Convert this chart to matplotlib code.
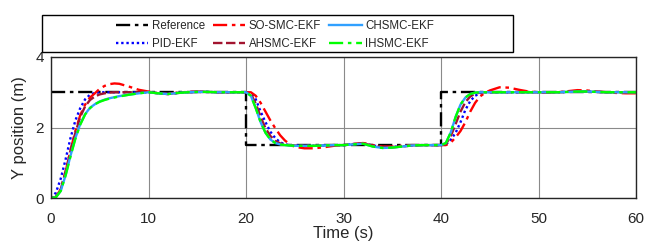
import matplotlib
matplotlib.use("Agg")
import matplotlib.pyplot as plt
from matplotlib.patches import Rectangle

plt.rcParams['font.family'] = ['Liberation Sans', 'DejaVu Sans']

# ---------------- data ----------------
ref_t = [0, 20, 20, 40, 40, 60]
ref_y = [3.0, 3.0, 1.5, 1.5, 3.0, 3.0]

t = [0, 0.5, 1, 1.5, 2, 2.5, 3, 3.5, 4, 4.5, 5, 5.5, 6, 6.5, 7, 8, 9, 10,
     11, 12, 13, 14, 15, 16, 17, 18, 19, 20, 20.5, 21, 21.5, 22, 22.5, 23,
     23.5, 24, 24.5, 25, 26, 27, 28, 29, 30, 31, 32, 33, 34, 35, 36, 37, 38,
     39, 40, 40.5, 41, 41.5, 42, 42.5, 43, 43.5, 44, 44.5, 45, 46, 47, 48,
     49, 50, 51, 52, 53, 54, 55, 56, 57, 58, 59, 60]

pid_ekf = [0.0, 0.15, 0.55, 1.1, 1.7, 2.2, 2.55, 2.8, 2.93, 2.98, 3.0, 3.0, 3.0, 3.0, 3.0, 3.0, 3.0, 3.0,
           2.97, 2.95, 2.98, 3.0, 3.01, 3.01, 3.0, 3.0, 3.0, 3.0, 2.97, 2.8, 2.45, 2.15, 1.88, 1.7,
           1.58, 1.52, 1.5, 1.49, 1.48, 1.48, 1.49, 1.5, 1.5, 1.53, 1.55, 1.49, 1.45, 1.45, 1.47, 1.49, 1.5,
           1.5, 1.5, 1.52, 1.65, 1.85, 2.15, 2.5, 2.75, 2.9, 2.97, 3.0, 3.0, 3.0, 3.0, 3.0,
           3.0, 3.0, 3.0, 3.0, 3.01, 3.02, 3.02, 3.01, 3.0, 3.0, 3.0, 3.0]

so_smc_ekf = [0.0, 0.03, 0.25, 0.75, 1.35, 1.9, 2.35, 2.65, 2.85, 2.97, 3.1, 3.18, 3.23, 3.25, 3.24, 3.16, 3.07, 3.02,
              2.97, 2.95, 2.99, 3.01, 3.02, 3.01, 3.0, 3.0, 3.0, 3.0, 3.0, 2.9, 2.7, 2.45, 2.2, 1.98,
              1.78, 1.63, 1.52, 1.45, 1.41, 1.41, 1.44, 1.48, 1.5, 1.53, 1.56, 1.5, 1.46, 1.46, 1.48, 1.5, 1.5,
              1.5, 1.5, 1.5, 1.57, 1.72, 1.9, 2.15, 2.45, 2.7, 2.88, 2.98, 3.05, 3.14, 3.13, 3.07,
              3.02, 3.0, 2.99, 3.0, 3.03, 3.06, 3.05, 3.02, 3.0, 2.98, 2.97, 2.97]

ahsmc_ekf = [0.0, 0.03, 0.25, 0.75, 1.35, 1.85, 2.3, 2.6, 2.78, 2.88, 2.94, 2.97, 2.99, 3.0, 3.0, 3.0, 3.0, 3.01,
             2.97, 2.95, 2.98, 3.0, 3.01, 3.01, 3.0, 3.0, 3.0, 3.0, 2.95, 2.68, 2.3, 1.98, 1.76, 1.62,
             1.55, 1.51, 1.5, 1.49, 1.48, 1.48, 1.49, 1.5, 1.5, 1.53, 1.55, 1.49, 1.44, 1.44, 1.46, 1.49, 1.5,
             1.5, 1.5, 1.53, 1.75, 2.1, 2.45, 2.72, 2.88, 2.96, 2.99, 3.0, 3.0, 3.0, 3.0, 3.0,
             3.0, 3.0, 3.0, 3.0, 3.01, 3.02, 3.02, 3.01, 3.0, 3.0, 3.0, 3.0]

chsmc_ekf = [0.0, 0.02, 0.2, 0.65, 1.2, 1.7, 2.1, 2.38, 2.56, 2.66, 2.74, 2.79, 2.83, 2.86, 2.89, 2.93, 2.97, 3.0,
             2.97, 2.95, 2.98, 3.0, 3.01, 3.01, 3.0, 3.0, 3.0, 3.0, 2.9, 2.55, 2.15, 1.85, 1.66, 1.56,
             1.52, 1.5, 1.49, 1.48, 1.48, 1.48, 1.49, 1.5, 1.5, 1.52, 1.54, 1.46, 1.42, 1.43, 1.46, 1.49, 1.5,
             1.5, 1.5, 1.56, 1.86, 2.3, 2.65, 2.85, 2.95, 2.99, 3.0, 3.0, 3.0, 3.0, 3.0, 3.0,
             3.0, 3.0, 3.0, 3.0, 3.01, 3.02, 3.02, 3.01, 3.0, 3.0, 3.0, 3.0]

ihsmc_ekf = [0.0, 0.02, 0.2, 0.64, 1.18, 1.68, 2.08, 2.37, 2.55, 2.66, 2.73, 2.78, 2.82, 2.85, 2.88, 2.93, 2.97, 3.0,
             2.97, 2.95, 2.98, 3.0, 3.01, 3.01, 3.0, 3.0, 3.0, 3.0, 2.9, 2.55, 2.15, 1.85, 1.66, 1.56,
             1.52, 1.5, 1.49, 1.48, 1.48, 1.48, 1.49, 1.5, 1.5, 1.52, 1.54, 1.46, 1.42, 1.43, 1.46, 1.49, 1.5,
             1.5, 1.5, 1.56, 1.86, 2.3, 2.65, 2.85, 2.95, 2.99, 3.0, 3.0, 3.0, 3.0, 3.0, 3.0,
             3.0, 3.0, 3.0, 3.0, 3.01, 3.02, 3.02, 3.01, 3.0, 3.0, 3.0, 3.0]

x_ticks = [0, 10, 20, 30, 40, 50, 60]
y_ticks = [0, 2, 4]

# ---------------- figure ----------------
fig = plt.figure(figsize=(6.46, 2.42), dpi=100)
ax = fig.add_axes([51 / 646, 1 - 198 / 242, 585 / 646, 141 / 242])

lw = 1.7
h_ref, = ax.plot(ref_t, ref_y, color='black', lw=lw, linestyle=(0, (6, 2, 1.5, 2)), label='Reference')
h_pid, = ax.plot(t, pid_ekf, color='#0000ff', lw=lw, linestyle=(0, (1, 1.2)), label='PID-EKF')
h_so, = ax.plot(t, so_smc_ekf, color='#ff0000', lw=lw, linestyle=(0, (6, 2, 1.5, 2)), label='SO-SMC-EKF')
h_ah, = ax.plot(t, ahsmc_ekf, color='#a2142f', lw=lw, linestyle=(0, (4, 1.5)), label='AHSMC-EKF')
h_ch, = ax.plot(t, chsmc_ekf, color='#30a0ff', lw=lw, linestyle='-', label='CHSMC-EKF')
h_ih, = ax.plot(t, ihsmc_ekf, color='#00ff00', lw=lw, linestyle=(0, (6, 2, 1.5, 2)), label='IHSMC-EKF')

ax.set_xlim(0, 60)
ax.set_ylim(0, 4)
ax.set_xticks(x_ticks)
ax.set_yticks(y_ticks)
ax.grid(True, color='#8a8a8a', lw=0.8)
ax.tick_params(axis='both', length=0, labelsize=11, colors='#262626')
ax.tick_params(axis='x', pad=10)
ax.tick_params(axis='y', pad=5)
for s in ax.spines.values():
    s.set_color('#262626')
    s.set_linewidth(1.0)
ax.set_xlabel('Time (s)', fontsize=12, color='#262626', labelpad=0)
ax.set_ylabel('Y position (m)', fontsize=12, color='#262626', labelpad=6)

# legend box
box = Rectangle((42 / 646, 1 - 52 / 242), 471 / 646, 37 / 242, transform=fig.transFigure,
                facecolor='white', edgecolor='black', lw=1.0)
fig.patches.append(box)
leg = fig.legend([h_ref, h_pid, h_so, h_ah, h_ch, h_ih],
                 ['Reference', 'PID-EKF', 'SO-SMC-EKF', 'AHSMC-EKF', 'CHSMC-EKF', 'IHSMC-EKF'],
                 ncol=3, loc='center', bbox_to_anchor=(275 / 646, 1 - 35 / 242),
                 frameon=False, fontsize=8.3, handlelength=2.8, handletextpad=0.3,
                 columnspacing=0.7, labelspacing=0.45, borderpad=0)
for txt in leg.get_texts():
    txt.set_color('#262626')

fig.savefig('out.png', dpi=100)
